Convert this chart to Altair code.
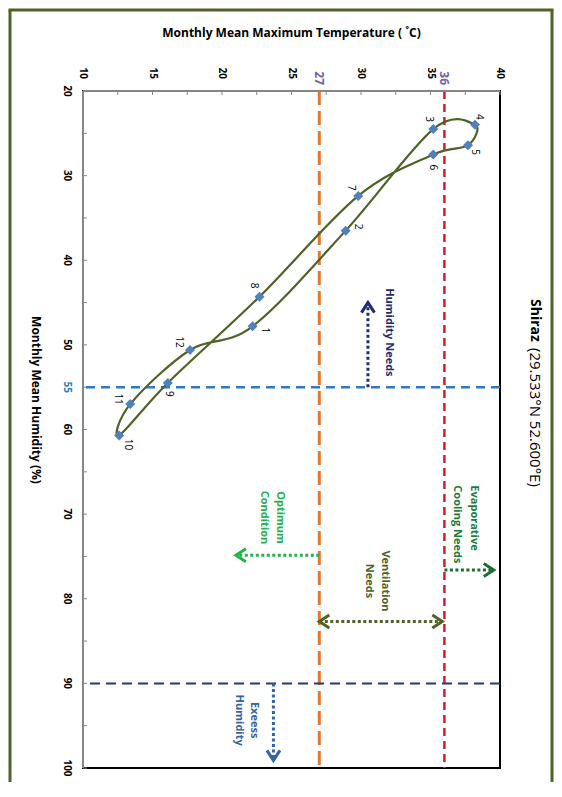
import altair as alt
import pandas as pd

# ---------------- data ----------------
months = [1, 2, 3, 4, 5, 6, 7, 8, 9, 10, 11, 12]
humidity = [47.8, 36.5, 24.5, 24.0, 26.4, 27.5, 32.4, 44.3, 54.5, 60.7, 57.0, 50.6]
temperature = [22.2, 28.9, 35.2, 38.2, 37.7, 35.2, 29.8, 22.7, 16.1, 12.6, 13.4, 17.7]

temp_axis_values = [10, 15, 20, 25, 30, 35, 40]
hum_axis_values = [20, 30, 40, 50, 55, 60, 70, 80, 90, 100]
temp_minor_ticks = [10, 12.5, 15, 17.5, 20, 22.5, 25, 27.5, 30, 32.5, 35, 37.5, 40]
hum_minor_ticks = [20, 25, 30, 35, 40, 45, 50, 55, 60, 65, 70, 75, 80, 85, 90, 95, 100]

limit_temps = [27, 36]
limit_hums = [55, 90]

# screen offsets of month labels from their markers (px)
label_shift_x = [12, 12, -4, 4, 7, 0, -7, -6, 1, 9, -12, -11]
label_shift_y = [4, -4, -10, -8, 7, 13, -8, -11, 11, 9, -5, -8]

note_text = ["Humidity Needs", "Evaporative", "Cooling Needs", "Ventilation", "Needs",
             "Optimum", "Condition", "Exeess", "Humidity"]
note_temp = [32.0, 38.1, 36.9, 31.7, 30.6, 24.2, 23.0, 22.3, 21.2]
note_hum = [43.3, 66.6, 66.6, 77.9, 77.9, 70.4, 70.4, 94.35, 94.35]
note_anchor = ["left", "left", "left", "center", "center", "center", "center", "center", "center"]
note_color = ["#1f2d6e", "#1e7b3a", "#1e7b3a", "#4f6228", "#4f6228",
              "#22b24c", "#22b24c", "#3563a8", "#3563a8"]

arrow_temp = [30.5, 36.0, 27.0, 27.0, 23.7]
arrow_temp2 = [30.5, 39.55, 35.85, 21.0, 23.7]
arrow_hum = [55.0, 76.6, 82.7, 74.85, 90.0]
arrow_hum2 = [45.0, 76.6, 82.7, 74.85, 99.1]
arrow_color = ["#1f2d6e", "#1a6e33", "#4f6228", "#22b24c", "#3563a8"]

head_temp = [30.5, 39.55, 35.85, 27.0, 21.0, 23.7]
head_hum = [45.0, 76.6, 82.7, 82.7, 74.85, 99.1]
head_angle = [270, 0, 0, 180, 180, 90]
head_color = ["#1f2d6e", "#1a6e33", "#4f6228", "#4f6228", "#22b24c", "#3563a8"]

# ---------------- layout ----------------
W, H = 417, 677
BOT = 14
FONT = "Open Sans"

df = pd.DataFrame({"month": months, "hum": humidity, "temp": temperature})
one = pd.DataFrame({"k": [0]})

xs = alt.Scale(domain=[10, 40], nice=False, zero=False)
ys = alt.Scale(domain=[20, 100], reverse=True, nice=False, zero=False)

def X(f):
    return alt.X(f, scale=xs, axis=None)

def Y(f):
    return alt.Y(f, scale=ys, axis=None)

layers = []

# inner ticks
tdf = pd.DataFrame({"temp": temp_minor_ticks})
layers.append(alt.Chart(tdf).mark_rule(color="#868686", strokeWidth=1).encode(
    x=X("temp:Q"), y=alt.value(0), y2=alt.value(4)))
hdf = pd.DataFrame({"hum": hum_minor_ticks})
layers.append(alt.Chart(hdf).mark_rule(color="#868686", strokeWidth=1).encode(
    y=Y("hum:Q"), x=alt.value(0), x2=alt.value(4)))

# axis tick labels
tl = pd.DataFrame({"temp": temp_axis_values, "lab": [str(v) for v in temp_axis_values]})
layers.append(alt.Chart(tl).mark_text(
    angle=90, align="right", baseline="middle", font=FONT, fontSize=10, fontWeight="bold",
    color="black").encode(x=X("temp:Q"), y=alt.value(-12), text="lab:N"))
hl = pd.DataFrame({"hum": hum_axis_values, "lab": [str(v) for v in hum_axis_values]})
layers.append(alt.Chart(hl).mark_text(
    angle=90, align="center", baseline="top", font=FONT, fontSize=10, fontWeight="bold").encode(
    y=Y("hum:Q"), x=alt.value(-11), text="lab:N",
    color=alt.condition("datum.hum === 55", alt.value("#2e7bc4"), alt.value("black"))))

# limit lines
layers.append(alt.Chart(pd.DataFrame({"temp": [limit_temps[0]]})).mark_rule(
    color="#e8772a", strokeWidth=3, strokeDash=[14, 6]).encode(x=X("temp:Q")))
layers.append(alt.Chart(pd.DataFrame({"temp": [limit_temps[1]]})).mark_rule(
    color="#cc2229", strokeWidth=2.5, strokeDash=[8, 5]).encode(x=X("temp:Q")))
layers.append(alt.Chart(pd.DataFrame({"hum": [limit_hums[0]]})).mark_rule(
    color="#2e7bc4", strokeWidth=2.5, strokeDash=[9, 6]).encode(y=Y("hum:Q")))
layers.append(alt.Chart(pd.DataFrame({"hum": [limit_hums[1]]})).mark_rule(
    color="#243a6e", strokeWidth=2, strokeDash=[10, 6]).encode(y=Y("hum:Q")))

# purple labels 27 / 36
layers.append(alt.Chart(pd.DataFrame({"temp": limit_temps, "lab": [str(v) for v in limit_temps]})).mark_text(
    angle=90, align="right", baseline="middle", font=FONT, fontSize=12, fontWeight="bold",
    color="#7060a8").encode(x=X("temp:Q"), y=alt.value(-6), text="lab:N"))

# arrows
adf = pd.DataFrame({"t1": arrow_temp, "t2": arrow_temp2, "h1": arrow_hum, "h2": arrow_hum2, "c": arrow_color})
layers.append(alt.Chart(adf).mark_rule(strokeWidth=3, strokeDash=[3, 2.5]).encode(
    x=X("t1:Q"), x2="t2:Q", y=Y("h1:Q"), y2="h2:Q",
    color=alt.Color("c:N", scale=None)))
hdf2 = pd.DataFrame({"t": head_temp, "h": head_hum, "a": head_angle, "c": head_color})
layers.append(alt.Chart(hdf2).mark_point(shape="M-1,-0.65L0,0L-1,0.65", filled=False, size=400,
                                          strokeWidth=3, opacity=1).encode(
    x=X("t:Q"), y=Y("h:Q"),
    angle=alt.Angle("a:Q", scale=None), stroke=alt.Stroke("c:N", scale=None)))

# annotation texts
ndf = pd.DataFrame({"txt": note_text, "t": note_temp, "h": note_hum, "anc": note_anchor, "c": note_color})
for anc in ["left", "center"]:
    layers.append(alt.Chart(ndf).transform_filter(f"datum.anc === '{anc}'").mark_text(
        angle=90, align=anc, baseline="middle", font=FONT, fontSize=11, fontWeight="bold").encode(
        x=X("t:Q"), y=Y("h:Q"), text="txt:N", color=alt.Color("c:N", scale=None)))

# curve and markers
layers.append(alt.Chart(df).mark_line(interpolate="cardinal-closed", tension=0, color="#4f6228",
                                      strokeWidth=2.2).encode(
    x=X("temp:Q"), y=Y("hum:Q"), order=alt.Order("month:Q")))
layers.append(alt.Chart(df).mark_point(shape="diamond", filled=True, size=100, color="#4f81bd",
                                       opacity=1).encode(x=X("temp:Q"), y=Y("hum:Q")))

# month labels
for i, m in enumerate(months):
    layers.append(alt.Chart(df).transform_filter(f"datum.month === {m}").mark_text(
        angle=90, align="center", baseline="middle", font=FONT, fontSize=10, color="black",
        dx=label_shift_y[i], dy=-label_shift_x[i]).encode(
        x=X("temp:Q"), y=Y("hum:Q"), text="month:N"))

# axis lines (gray, top and left)
layers.append(alt.Chart(one).mark_rule(color="#868686", strokeWidth=2).encode(
    x=alt.value(0), x2=alt.value(W), y=alt.value(0)))
layers.append(alt.Chart(one).mark_rule(color="#868686", strokeWidth=2).encode(
    x=alt.value(0), y=alt.value(0), y2=alt.value(H)))

# titles
layers.append(alt.Chart(one).mark_text(
    text="Monthly Mean Maximum Temperature ( \u02daC)", font=FONT, fontSize=12, fontWeight="bold",
    align="center", baseline="middle", color="black").encode(x=alt.value(W / 2), y=alt.value(-58)))
layers.append(alt.Chart(one).mark_text(
    text="Monthly Mean Humidity (%)", font=FONT, fontSize=12, fontWeight="bold", angle=90,
    align="center", baseline="middle", color="black").encode(x=alt.value(-47), y=alt.value(309)))
layers.append(alt.Chart(one).mark_text(
    text="Shiraz", font=FONT, fontSize=14, fontWeight="bold", angle=90,
    align="left", baseline="middle", color="black").encode(x=alt.value(452), y=alt.value(208)))
layers.append(alt.Chart(one).mark_text(
    text="(29.533\u00b0N 52.600\u00b0E)", font=FONT, fontSize=15, angle=90,
    align="left", baseline="middle", color="black").encode(x=alt.value(452), y=alt.value(257)))

# outer border (left, top, right)
BC = "#4f6228"
RB = 469
layers.append(alt.Chart(one).mark_rule(color=BC, strokeWidth=3).encode(
    x=alt.value(-73), y=alt.value(-81), y2=alt.value(H + BOT + 2)))
layers.append(alt.Chart(one).mark_rule(color=BC, strokeWidth=3).encode(
    x=alt.value(-74.5), x2=alt.value(RB + 1.5), y=alt.value(-81)))
layers.append(alt.Chart(one).mark_rule(color=BC, strokeWidth=3).encode(
    x=alt.value(RB), y=alt.value(-81), y2=alt.value(H + BOT + 2)))

chart = alt.layer(*layers).properties(
    width=W, height=H,
    autosize=alt.AutoSizeParams(type="none"),
    padding={"left": 75, "top": 83, "right": 54, "bottom": BOT},
).configure_view(stroke="black", strokeWidth=2)

chart.save("out.html", embed_options={"renderer": "svg", "actions": False})
